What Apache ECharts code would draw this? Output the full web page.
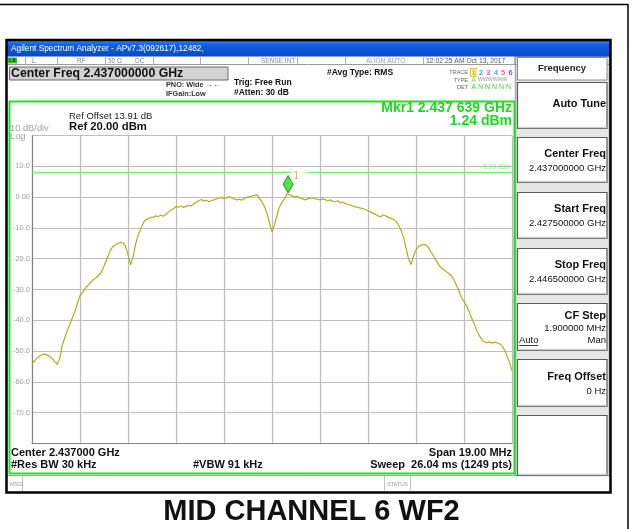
<!DOCTYPE html>
<html>
<head>
<meta charset="utf-8">
<script src="https://cdn.jsdelivr.net/npm/echarts@6/dist/echarts.min.js"></script>
<style>
  html, body { margin: 0; padding: 0; background: #fff; }
  #chart { width: 637px; height: 529px; }
</style>
</head>
<body>
<div id="chart"></div>
<script>
// Sweep settings (MHz offsets are relative to the centre frequency)
const centerFreqGHz = 2.437;
const startFreqGHz = 2.4275;
const stopFreqGHz = 2.4465;
const spanMHz = 19.0;
const pointStepMHz = 0.1;
const refLevelDbm = 20;
const refOffsetDb = 13.91;
const bottomLevelDbm = -80;
const dbPerDiv = 10;
const displayLineDbm = 8.00;

// Trace level in dBm, one value every 0.1 MHz from the start frequency
const traceDbm = [
  -54.1, -53.2, -52.3, -51.6, -51.2, -50.9, -51.3, -51.7, -52.4, -53.4,
  -54.3, -52.4, -48.0, -45.6, -43.3, -41.3, -39.2, -37.1, -34.4, -32.0,
  -30.9, -29.7, -28.8, -27.9, -27.0, -26.4, -25.7, -24.9, -23.4, -21.4,
  -19.4, -17.3, -16.1, -15.5, -15.0, -14.7, -14.9, -15.9, -18.6, -22.0,
  -19.4, -15.3, -12.4, -10.4, -8.4, -7.4, -7.0, -6.6, -6.5, -6.1,
  -6.3, -5.9, -6.2, -5.6, -4.8, -4.2, -3.8, -3.0, -3.3, -2.9,
  -3.4, -3.0, -2.7, -2.9, -2.2, -1.7, -1.2, -0.8, -1.3, -1.0,
  -1.5, -1.1, -0.9, -0.6, -0.3, -0.1, -0.5, -0.2, 0.2, -0.3,
  -0.6, -0.9, -0.7, -1.0, -0.4, -0.1, 0.1, 0.3, 0.6, 0.7,
  -0.4, -1.5, -3.0, -5.2, -8.4, -11.3, -9.1, -5.8, -3.1, -1.6,
  -0.5, 1.1, 0.7, 0.4, 0.1, 0.3, -0.3, -0.5, -0.9, -0.6,
  -0.4, -0.2, -0.5, -0.7, -0.9, -0.6, -0.8, -1.2, -0.9, -1.3,
  -1.5, -1.2, -1.8, -1.6, -2.1, -2.4, -2.6, -2.9, -3.2, -3.3,
  -3.6, -3.7, -4.1, -4.5, -4.8, -5.2, -5.6, -6.1, -6.4, -5.8,
  -6.1, -6.5, -6.9, -7.2, -7.8, -8.9, -10.6, -12.9, -16.3, -19.9,
  -21.9, -19.2, -17.1, -16.0, -15.6, -15.3, -15.6, -16.4, -17.9, -19.3,
  -20.6, -22.0, -23.0, -23.5, -24.2, -24.8, -25.6, -26.8, -28.6, -30.4,
  -32.6, -33.9, -35.4, -37.1, -39.2, -41.0, -43.2, -44.9, -46.2, -46.9,
  -47.3, -47.0, -47.4, -47.1, -47.3, -47.6, -48.2, -49.6, -51.4, -53.6,
  -56.4
];

// Marker 1
const markerFreqGHz = 2.437639;
const markerDbm = 1.24;

// Softkey panel
const softkeyTitles = ['Center Freq', 'Start Freq', 'Stop Freq', 'CF Step', 'Freq Offset'];
const softkeyValues = ['2.437000000 GHz', '2.427500000 GHz', '2.446500000 GHz', '1.900000 MHz', '0 Hz'];

const FONT = "'Liberation Sans', Arial, sans-serif";
const halfSpan = spanMHz / 2;
const tracePoints = traceDbm.map((v, i) => [+(i * pointStepMHz - halfSpan).toFixed(2), v]);
const markerOffsetMHz = +((markerFreqGHz - centerFreqGHz) * 1000).toFixed(3);

function fmtGHzGrouped(g) {
  const s = g.toFixed(6);
  return s.slice(0, 5) + ' ' + s.slice(5);
}

function txt(x, y, text, size, opt) {
  opt = opt || {};
  return {
    type: 'text', x: x, y: y, z: opt.z || 10, silent: true,
    style: {
      text: text,
      fill: opt.color || '#111',
      font: (opt.bold ? 'bold ' : '') + size + 'px ' + (opt.family || FONT),
      textAlign: opt.align || 'left', align: opt.align || 'left',
      textVerticalAlign: 'middle', verticalAlign: 'middle'
    }
  };
}
function box(x, y, w, h, fill, stroke, lw, z) {
  return {
    type: 'rect', z: z || 1, silent: true,
    shape: { x: x, y: y, width: w, height: h },
    style: { fill: fill || 'none', stroke: stroke || null, lineWidth: lw || 1 }
  };
}
function hline(x1, x2, y, color, lw, z) {
  return { type: 'line', z: z || 2, silent: true, shape: { x1: x1, y1: y, x2: x2, y2: y }, style: { stroke: color, lineWidth: lw || 1 } };
}
function vline(x, y1, y2, color, lw, z) {
  return { type: 'line', z: z || 2, silent: true, shape: { x1: x, y1: y1, x2: x, y2: y2 }, style: { stroke: color, lineWidth: lw || 1 } };
}

const g = [];
// page frame
g.push(hline(0, 628, 4.5, '#000', 1.5));
g.push(vline(628, 4, 529, '#000', 1.5));
// analyser title bar
g.push({
  type: 'rect', z: 2, silent: true,
  shape: { x: 7, y: 40, width: 603, height: 16.5 },
  style: { fill: { type: 'linear', x: 0, y: 0, x2: 0, y2: 1, colorStops: [
    { offset: 0, color: '#3f86f3' }, { offset: 0.3, color: '#0f5fe6' }, { offset: 1, color: '#0a48c4' }] } }
});
g.push(txt(11, 48.5, 'Agilent Spectrum Analyzer - APv7.3(092617),12482,', 8.3, { color: '#fff' }));
// status row
g.push(hline(7, 610, 64.5, '#9a9a9a', 1));
g.push(box(8, 57.5, 9, 6, '#27d227', null, 0, 3));
g.push(txt(9, 60.8, 'LX', 5.5, { color: '#222', bold: true }));
[25, 57, 105, 153, 200, 248, 297, 345, 423, 514].forEach(x => g.push(vline(x + 0.5, 57, 64, '#b0b0b0', 1)));
g.push(txt(32, 61, 'L', 6.5, { color: '#777' }));
g.push(txt(77, 61, 'RF', 6.5, { color: '#888' }));
g.push(txt(108, 61, '50 \u03a9', 6.5, { color: '#888' }));
g.push(txt(135, 61, 'DC', 6.5, { color: '#888' }));
g.push(txt(261, 61, 'SENSE:INT', 6.5, { color: '#888' }));
g.push(txt(366, 61, 'ALIGN AUTO', 6.5, { color: '#999' }));
g.push(txt(426, 61, '12:02:25 AM Oct 13, 2017', 6.8, { color: '#555' }));
// centre frequency box
g.push(box(9.5, 67, 218.5, 13, '#d3d3d3', '#6a6a6a', 1, 2));
g.push(txt(11, 74, 'Center Freq ' + centerFreqGHz.toFixed(9) + ' GHz', 12.3, { bold: true }));
g.push(txt(166, 84.5, 'PNO: Wide \u2192\u2190', 7.3, { bold: true, color: '#333' }));
g.push(txt(166, 93.5, 'IFGain:Low', 7.3, { bold: true, color: '#333' }));
g.push(txt(234, 82.5, 'Trig: Free Run', 8.5, { bold: true }));
g.push(txt(234, 92.5, '#Atten: 30 dB', 8.5, { bold: true }));
g.push(txt(327, 72.5, '#Avg Type: RMS', 8.5, { bold: true }));
// trace status block
g.push(txt(468, 72.5, 'TRACE', 5.5, { color: '#666', align: 'right' }));
g.push(box(470.5, 68.5, 5.5, 8, 'none', '#d8b000', 0.8, 3));
const traceColors = ['#c9a800', '#28a8ff', '#ff4fd0', '#3cb0ff', '#ff5fa0', '#9b44ff'];
traceColors.forEach((c, i) => g.push(txt(471.5 + i * 7.4, 72.5, String(i + 1), 7.5, { color: c, bold: true })));
g.push(txt(468, 80, 'TYPE', 5.5, { color: '#666', align: 'right' }));
g.push(txt(471.5, 80, 'A', 6.5, { color: '#6fd86f' }));
g.push(txt(478, 80, 'WWWWWW', 5.2, { color: '#9a9a9a' }));
g.push(txt(468, 87.5, 'DET', 5.5, { color: '#666', align: 'right' }));
g.push(txt(471.5, 87.5, 'A N N N N N', 7, { color: '#3cd23c' }));
// plot panel border and annotations
g.push(box(9.5, 101.5, 505, 372, 'none', '#25dd25', 2, 20));
g.push(txt(69, 116, 'Ref Offset ' + refOffsetDb.toFixed(2) + ' dB', 9.5, { color: '#222' }));
g.push(txt(69, 126.5, 'Ref ' + refLevelDbm.toFixed(2) + ' dBm', 11.3, { bold: true }));
g.push(txt(10, 128, dbPerDiv + ' dB/div', 9.3, { color: '#a3a3a3' }));
g.push(txt(10, 136, 'Log', 9.3, { color: '#a3a3a3' }));
g.push(txt(512, 108.5, 'Mkr1 ' + fmtGHzGrouped(markerFreqGHz) + ' GHz', 14, { bold: true, color: '#22d822', align: 'right' }));
g.push(txt(512, 121.5, markerDbm.toFixed(2) + ' dBm', 14, { bold: true, color: '#22d822', align: 'right' }));
g.push(txt(11, 452.5, 'Center ' + centerFreqGHz.toFixed(6) + ' GHz', 11, { bold: true }));
g.push(txt(11, 464.5, '#Res BW 30 kHz', 11, { bold: true }));
g.push(txt(193, 464.5, '#VBW 91 kHz', 11, { bold: true }));
g.push(txt(512, 452.5, 'Span ' + spanMHz.toFixed(2) + ' MHz', 11, { bold: true, align: 'right' }));
g.push(txt(512, 464.5, 'Sweep  26.04 ms (1249 pts)', 11, { bold: true, align: 'right' }));
// message / status bar
g.push(hline(7, 610, 475.5, '#a0a0a0', 1));
g.push(vline(22.5, 476, 491, '#c0c0c0', 1));
g.push(vline(384.5, 476, 491, '#c0c0c0', 1));
g.push(vline(410.5, 476, 491, '#c0c0c0', 1));
g.push(txt(10, 484, 'MSG', 5.5, { color: '#999' }));
g.push(txt(387, 484, 'STATUS', 5.5, { color: '#999' }));
// softkey panel
g.push(box(515.5, 56.5, 94, 419, '#e6e6e6', '#a8a8a8', 1.5, 1));
g.push(box(517.5, 57.5, 89.5, 22.5, '#fff', '#8a8a8a', 1, 2));
g.push(txt(562, 68.5, 'Frequency', 9.5, { bold: true, color: '#222', align: 'center' }));
const keyTops = [82, 137, 192, 248, 303, 359, 415];
const keyH = [46, 45, 46, 46, 47, 47, 60];
keyTops.forEach((t, i) => {
  g.push(box(517.5, t + 0.5, 89.5, keyH[i], '#fff', '#5a5a5a', 1.2, 2));
  g.push(hline(518, 607, t + keyH[i] - 0.5, '#cfcfcf', 1.5, 3));
});
g.push(txt(606, 103.5, 'Auto Tune', 11, { bold: true, align: 'right' }));
const titleDy = [16.5, 16.5, 16.5, 13, 17.5];
softkeyTitles.forEach((s, i) => {
  g.push(txt(606, keyTops[i + 1] + titleDy[i], s, 11, { bold: true, align: 'right' }));
});
[0, 1, 2].forEach(i => g.push(txt(606, keyTops[i + 1] + 31.5, softkeyValues[i], 9.5, { color: '#111', align: 'right' })));
g.push(txt(606, keyTops[4] + 25, softkeyValues[3], 9.5, { color: '#111', align: 'right' }));
g.push(txt(519, keyTops[4] + 37, 'Auto', 9.5, { color: '#111' }));
g.push(hline(519, 538, keyTops[4] + 42.5, '#111', 0.8, 3));
g.push(txt(606, keyTops[4] + 37, 'Man', 9.5, { color: '#111', align: 'right' }));
g.push(txt(606, keyTops[5] + 32.5, softkeyValues[4], 9.5, { color: '#111', align: 'right' }));
// window frame on top
g.push(box(6.5, 40, 604, 452.5, 'none', '#000', 2.5, 30));
// caption
g.push(txt(311.5, 511.5, 'MID CHANNEL 6 WF2', 29, { bold: true, color: '#111', align: 'center' }));

const chart = echarts.init(document.getElementById('chart'), null, { renderer: 'canvas', width: 637, height: 529 });
chart.setOption({
  animation: false,
  backgroundColor: '#ffffff',
  grid: { left: 32, top: 135.5, width: 480, height: 308, containLabel: false },
  xAxis: {
    type: 'value', min: -halfSpan, max: halfSpan, interval: spanMHz / 10,
    axisLine: { show: true, onZero: false, lineStyle: { color: '#858585', width: 1.2 } },
    axisTick: { show: false }, axisLabel: { show: false },
    splitLine: { show: true, lineStyle: { color: '#bdbdbd', width: 1.2 } }
  },
  yAxis: {
    type: 'value', min: bottomLevelDbm, max: refLevelDbm, interval: dbPerDiv,
    axisLine: { show: true, onZero: false, lineStyle: { color: '#858585', width: 1.2 } },
    axisTick: { show: false },
    axisLabel: {
      showMinLabel: false, showMaxLabel: false, margin: 2,
      color: '#a0a0a0', fontSize: 7.5, fontFamily: FONT,
      formatter: v => (v === 0 ? '0.00' : v.toFixed(1))
    },
    splitLine: { show: true, lineStyle: { color: '#bdbdbd', width: 1.2 } }
  },
  graphic: { elements: g },
  series: [
    {
      name: 'Display line', type: 'line', z: 3, silent: true,
      symbol: 'none',
      data: [[-halfSpan, displayLineDbm], [halfSpan, displayLineDbm]],
      lineStyle: { color: '#74ee74', width: 1.2 }
    },
    {
      name: 'Display line label', type: 'scatter', z: 4, silent: true,
      symbolSize: 0,
      data: [[halfSpan, displayLineDbm]],
      label: {
        show: true, position: 'left', distance: 1, offset: [0, -5.5],
        formatter: displayLineDbm.toFixed(2) + ' dBm',
        color: '#66e066', fontSize: 6.5, fontFamily: FONT
      }
    },
    {
      name: 'Trace 1', type: 'line', z: 5, silent: true,
      symbol: 'none',
      data: tracePoints,
      lineStyle: { color: '#b4ac1c', width: 1.2 }
    },
    {
      name: 'Marker 1', type: 'scatter', z: 6, silent: true,
      symbol: 'diamond', symbolSize: [10, 17], symbolOffset: [0, -9],
      data: [[markerOffsetMHz, markerDbm]],
      itemStyle: { color: '#22e022', borderColor: '#137a13', borderWidth: 1 },
      label: {
        show: true, position: 'right', distance: 0, offset: [-2, -8],
        formatter: '1', color: '#b4ac1c', fontSize: 10, fontFamily: FONT,
        backgroundColor: '#fff', padding: [1, 9, 1, 2]
      }
    }
  ]
});
</script>
</body>
</html>
